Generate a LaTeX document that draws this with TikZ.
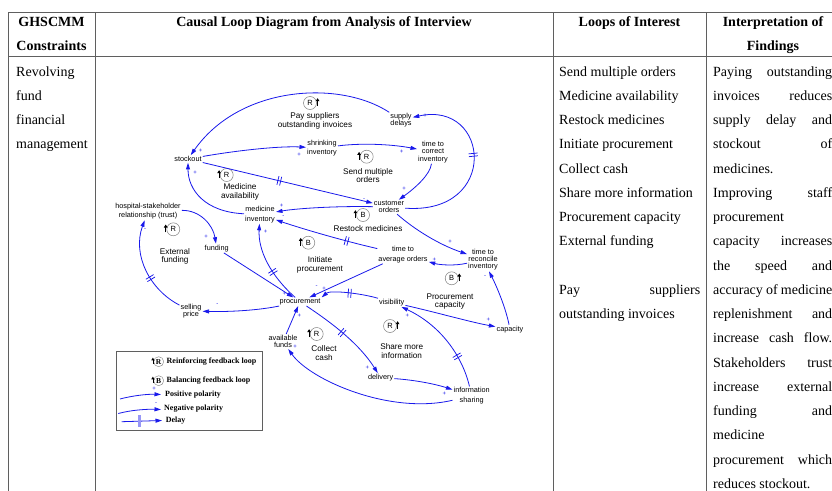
\documentclass[tikz,border=0pt]{standalone}
\usepackage{fontspec}
\setmainfont{Liberation Serif}
\setsansfont{Liberation Sans}
\usetikzlibrary{arrows.meta,decorations.markings}
\definecolor{cblue}{RGB}{25,25,235}
\definecolor{rulegray}{RGB}{95,95,95}
\newcommand\loopmark[5]{%
  \node[circle, draw=gray, line width=0.5pt, minimum size=13pt, inner sep=0pt,
        font=\fontsize{7.5}{7.5}\selectfont\sffamily] (#1) at (#2,#3) {#4};
  \draw[line width=0.9pt, -{Triangle[length=3pt,width=3.6pt]}]
     ([xshift=#5*7.6pt, yshift=-3pt]#1.center) -- ([xshift=#5*7.6pt, yshift=4.8pt]#1.center);
}
\newcommand\legmark[5]{%
  \node[circle, draw=gray, line width=0.4pt, minimum size=10pt, inner sep=0pt,
        font=\fontsize{7.5}{7.5}\selectfont\bfseries] (#1) at (#2,#3) {#4};
  \draw[line width=0.8pt, -{Triangle[length=2.6pt,width=3pt]}]
     ([xshift=#5*5.8pt, yshift=-2.5pt]#1.center) -- ([xshift=#5*5.8pt, yshift=4pt]#1.center);
}
\newcommand\jline[1]{\makebox[119pt][l]{#1}}
\begin{document}
\begin{tikzpicture}[x=1pt,y=-1pt,
  var/.style={font=\fontsize{7.3}{7.2}\selectfont\sffamily, align=center, inner sep=1pt},
  varw/.style={font=\fontsize{7.3}{9.4}\selectfont\sffamily, align=center, inner sep=1pt},
  lname/.style={font=\fontsize{8.2}{8.4}\selectfont\sffamily, align=center, inner sep=0pt},
  lnk/.style={draw=cblue, line width=0.8pt, -{Triangle[length=6.5pt,width=4pt]}},
  dly/.style={decoration={markings, mark=at position #1 with {\draw[-, cblue, line width=0.75pt] (-1.4,-4.5) -- (-1.4,4.5) (1.4,-4.5) -- (1.4,4.5);}}, postaction={decorate}},
  sgn/.style={text=cblue, font=\fontsize{6}{6}\selectfont\sffamily, inner sep=0pt},
  cell/.style={font=\fontsize{14}{14}\selectfont, anchor=base west, inner sep=0pt},
  head/.style={font=\fontsize{14}{14}\selectfont\bfseries, anchor=base, inner sep=0pt},
  legt/.style={font=\fontsize{8}{8}\selectfont\bfseries, anchor=west, inner sep=0pt},
  gridline/.style={draw=rulegray, line width=0.8pt}]

\fill[white] (0,0) rectangle (832,490);
\useasboundingbox (0,0) rectangle (832,490);

% ---------- table rules ----------
\draw[gridline] (8,12.5) -- (840,12.5);
\draw[gridline] (8,56) -- (840,56);
\draw[gridline] (8,12.5) -- (8,495);
\draw[gridline] (95,12.5) -- (95,495);
\draw[gridline] (553,12.5) -- (553,495);
\draw[gridline] (706,12.5) -- (706,495);

% ---------- headers ----------
\node[head] (h1) at (51.5,26.5) {GHSCMM};
\node[head] (h2) at (51.5,50.7) {Constraints};
\node[head] (h3) at (324,26.5) {Causal Loop Diagram from Analysis of Interview};
\node[head] (h4) at (629.5,26.5) {Loops of Interest};
\node[head] (h5) at (773,26.5) {Interpretation of};
\node[head] (h6) at (773,50.7) {Findings};

% ---------- column 1 ----------
\node[cell] (c1) at (16,76) {Revolving};
\node[cell] (c2) at (16,100.25) {fund};
\node[cell] (c3) at (16,124.5) {financial};
\node[cell] (c4) at (16,148.75) {management};

% ---------- loops of interest ----------
\node[cell] (l1) at (559,76) {Send multiple orders};
\node[cell] (l2) at (559,100.25) {Medicine availability};
\node[cell] (l3) at (559,124.5) {Restock medicines};
\node[cell] (l4) at (559,148.75) {Initiate procurement};
\node[cell] (l5) at (559,173) {Collect cash};
\node[cell] (l6) at (559,197.25) {Share more information};
\node[cell] (l7) at (559,221.5) {Procurement capacity};
\node[cell] (l8) at (559,245.75) {External funding};
\node[cell] (l9) at (559,294.25) {\makebox[141pt][l]{Pay\hfill suppliers}};
\node[cell] (l10) at (559,318.5) {outstanding invoices};

% ---------- interpretation ----------
\node[cell] (i0) at (713,76) {\jline{Paying\hfill outstanding}};
\node[cell] (i1) at (713,100.25) {\jline{invoices\hfill reduces}};
\node[cell] (i2) at (713,124.5) {\jline{supply\hfill delay\hfill and}};
\node[cell] (i3) at (713,148.75) {\jline{stockout\hfill of}};
\node[cell] (i4) at (713,173) {medicines.};
\node[cell] (i5) at (713,197.25) {\jline{Improving\hfill staff}};
\node[cell] (i6) at (713,221.5) {procurement};
\node[cell] (i7) at (713,245.75) {\jline{capacity\hfill increases}};
\node[cell] (i8) at (713,270) {\jline{the\hfill speed\hfill and}};
\node[cell] (i9) at (713,294.25) {\jline{accuracy\hfill of\hfill medicine}};
\node[cell] (i10) at (713,318.5) {\jline{replenishment\hfill and}};
\node[cell] (i11) at (713,342.75) {\jline{increase\hfill cash\hfill flow.}};
\node[cell] (i12) at (713,367) {\jline{Stakeholders\hfill trust}};
\node[cell] (i13) at (713,391.25) {\jline{increase\hfill external}};
\node[cell] (i14) at (713,415.5) {\jline{funding\hfill and}};
\node[cell] (i15) at (713,439.75) {medicine};
\node[cell] (i16) at (713,464) {\jline{procurement\hfill which}};
\node[cell] (i17) at (713,488.25) {reduces stockout.};

% ---------- diagram: variables ----------
\node[var] (supdel) at (401,120) {supply\\delays};
\node[varw] (shrink) at (322,148) {shrinking\\inventory};
\node[var] (tcorr) at (433,152) {time to\\correct\\inventory};
\node[var] (stockout) at (188,159) {stockout};
\node[var] (custord) at (389,207) {customer\\orders};
\node[varw] (medinv) at (260,214.5) {medicine\\inventory};
\node[varw] (trust) at (148,211) {hospital-stakeholder\\relationship (trust)};
\node[var] (funding) at (216.7,248.3) {funding};
\node[varw] (tavg) at (403,254.5) {time to\\average orders};
\node[var] (trec) at (483,259.5) {time to\\reconcile\\inventory};
\node[var] (proc) at (300,301.7) {procurement};
\node[var] (visib) at (391.7,302.3) {visibility};
\node[var] (sellp) at (191,311) {selling\\price};
\node[var] (capac) at (510,329.3) {capacity};
\node[var] (avail) at (283,341.5) {available\\funds};
\node[var] (deliv) at (380.7,377.7) {delivery};
\node[varw] (infosh) at (471.7,395.7) {information\\sharing};

% ---------- diagram: loop names ----------
\node[lname] (nPay) at (315,121) {Pay suppliers\\outstanding invoices};
\node[lname] (nSend) at (368,175.5) {Send multiple\\orders};
\node[lname] (nMed) at (240,192) {Medicine\\availability};
\node[lname] (nRest) at (368,229) {Restock medicines};
\node[lname] (nExt) at (175,256.5) {External\\funding};
\node[lname] (nInit) at (320,265) {Initiate\\procurement};
\node[lname] (nCap) at (450,301.7) {Procurement\\capacity};
\node[lname] (nShare) at (401.7,351) {Share more\\information};
\node[lname] (nColl) at (324,353) {Collect\\cash};

% ---------- loop symbols ----------
\loopmark{lPay}{310}{103}{R}{1}
\loopmark{lMed}{226.7}{175}{R}{-1}
\loopmark{lSend}{366.7}{156.7}{R}{-1}
\loopmark{lRest}{363}{215}{B}{-1}
\loopmark{lExt}{173.3}{229.3}{R}{-1}
\loopmark{lInit}{308.3}{242.7}{B}{-1}
\loopmark{lCap}{451.7}{278.3}{B}{1}
\loopmark{lShare}{390}{326}{R}{1}
\loopmark{lColl}{316.7}{334}{R}{-1}

% ---------- connectors ----------
\draw[lnk] (supdel) .. controls (340,80) and (240,85) .. (stockout);
\draw[lnk, dly=0.55] (custord) .. controls (500,215) and (490,100) .. (supdel);
\draw[lnk] (stockout) .. controls (240,150) and (280,146) .. (shrink);
\draw[lnk] (shrink) .. controls (360,143) and (390,144) .. (tcorr);
\draw[lnk] (tcorr) .. controls (430,175) and (415,188) .. (custord);
\draw[lnk, dly=0.45] (stockout) -- (custord);
\draw[lnk] (custord) .. controls (340,206) and (300,208) .. (medinv);
\draw[lnk] (medinv) .. controls (205,212) and (188,190) .. (stockout);
\draw[lnk, dly=0.3] (tavg) .. controls (340,240) and (300,228) .. (medinv);
\draw[lnk] (custord) .. controls (415,230) and (440,245) .. (trec);
\draw[lnk] (trec) .. controls (455,266) and (440,265) .. (tavg);
\draw[lnk] (tavg) -- (proc);
\draw[lnk, dly=0.5] (visib) .. controls (360,293) and (330,290) .. (proc.north east);
\draw[lnk] (capac) .. controls (505,305) and (495,283) .. (trec);
\draw[lnk] (visib) .. controls (435,312) and (470,322) .. (capac);
\draw[lnk, dly=0.3] (infosh) .. controls (462,355) and (440,325) .. (visib);
\draw[lnk, dly=0.45] (proc) .. controls (335,325) and (360,345) .. (deliv);
\draw[lnk] (deliv) .. controls (415,380) and (435,384) .. (infosh);
\draw[lnk] (infosh) .. controls (390,415) and (310,380) .. (avail);
\draw[lnk] (avail) -- (proc);
\draw[lnk, dly=0.4] (proc) .. controls (270,275) and (258,250) .. (medinv);
\draw[lnk] (funding) -- (proc);
\draw[lnk] (trust) .. controls (200,210) and (213,225) .. (funding);
\draw[lnk] (proc) .. controls (260,310) and (232,312) .. (sellp);
\draw[lnk, dly=0.4] (sellp) .. controls (150,290) and (132,255) .. (trust);

% ---------- polarity signs ----------
\node[sgn] (s1) at (200.7,150.7) {+};
\node[sgn] (s2) at (425,116) {+};
\node[sgn] (s3) at (299,154.3) {+};
\node[sgn] (s4) at (401.7,151.7) {+};
\node[sgn] (s5) at (404,188.3) {+};
\node[sgn] (s6) at (364,200) {-};
\node[sgn] (s7) at (281.7,205.7) {+};
\node[sgn] (s8) at (195,172.3) {+};
\node[sgn] (s9) at (283.3,216.7) {-};
\node[sgn] (s10) at (450,241.7) {+};
\node[sgn] (s11) at (434.3,260) {+};
\node[sgn] (s12) at (316.7,287) {-};
\node[sgn] (s13) at (324,289) {+};
\node[sgn] (s14) at (485,276.7) {-};
\node[sgn] (s15) at (488.3,320) {+};
\node[sgn] (s16) at (407.3,316) {+};
\node[sgn] (s17) at (367.3,367.7) {+};
\node[sgn] (s18) at (444.3,393.3) {+};
\node[sgn] (s19) at (295,346.7) {+};
\node[sgn] (s20) at (299.3,316) {+};
\node[sgn] (s21) at (265.7,231.7) {+};
\node[sgn] (s22) at (284.3,294) {+};
\node[sgn] (s23) at (206,236.7) {+};
\node[sgn] (s24) at (217.3,304.3) {-};
\node[sgn] (s25) at (145,230) {-};

% ---------- legend ----------
\draw[draw=rulegray, line width=0.6pt] (116.7,351.7) rectangle (262.3,430);
\legmark{gR}{158.7}{361.7}{R}{-1}
\legmark{gB}{158.7}{380.7}{B}{-1}
\node[legt] (tR) at (166.5,361.7) {Reinforcing feedback loop};
\node[legt] (tB) at (166.5,380.7) {Balancing feedback loop};
\coordinate (lp1) at (120,399);
\coordinate (lp2) at (161,394.5);
\draw[lnk] (lp1) .. controls (133,395.5) and (148,394) .. (lp2);
\node[sgn] (lps) at (154,388.5) {+};
\node[legt] (tP) at (165,394.3) {Positive polarity};
\coordinate (ln1) at (118.3,413.5);
\coordinate (ln2) at (161,409.5);
\draw[lnk] (ln1) .. controls (131,410) and (147,409) .. (ln2);
\node[sgn] (lns) at (156,403.5) {-};
\node[legt] (tN) at (164,408.5) {Negative polarity};
\coordinate (ld1) at (121.7,421.7);
\coordinate (ld2) at (162,420.5);
\draw[lnk] (ld1) -- (ld2);
\draw[cblue!45, line width=2.6pt] (139.3,415) -- (139.3,427);
\node[legt] (tD) at (165.7,421) {Delay};
\end{tikzpicture}
\end{document}
